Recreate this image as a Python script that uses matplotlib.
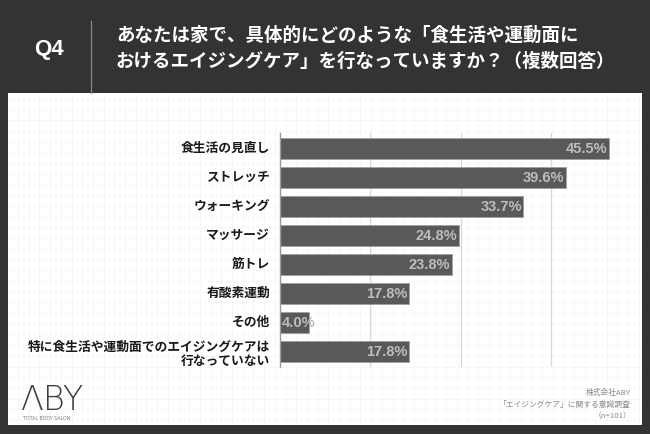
import matplotlib
matplotlib.use("Agg")
import matplotlib.pyplot as plt
import numpy as np

# ---- data ----
categories = [
    "食生活の見直し",
    "ストレッチ",
    "ウォーキング",
    "マッサージ",
    "筋トレ",
    "有酸素運動",
    "その他",
    "特に食生活や運動面でのエイジングケアは\n行なっていない",
]
values = [45.5, 39.6, 33.7, 24.8, 23.8, 17.8, 4.0, 17.8]
value_labels = ["45.5%", "39.6%", "33.7%", "24.8%", "23.8%", "17.8%", "4.0%", "17.8%"]
x_gridlines = [12.5, 25, 37.5]
x_max = 50

title_q = "Q4"
title_lines = "あなたは家で、具体的にどのような「食生活や運動面に\nおけるエイジングケア」を行なっていますか？（複数回答）"
footer_lines = "株式会社ABY\n「エイジングケア」に関する意識調査\n（n=101）"

W, H = 650, 434
JP = ["Noto Sans CJK JP", "DejaVu Sans"]

fig = plt.figure(figsize=(W / 100, H / 100), dpi=100)
fig.patch.set_facecolor("#333333")


def fx(px):
    return px / W


def fy(py):
    return 1 - py / H


# white panel with faint grid
pl, pt, pr, pb = 7.5, 92.7, 642, 425
ax_bg = fig.add_axes([fx(pl), fy(pb), fx(pr - pl), (pb - pt) / H])
ax_bg.set_xlim(pl, pr)
ax_bg.set_ylim(pb, pt)
ax_bg.set_facecolor("white")
for s in ax_bg.spines.values():
    s.set_visible(False)
ax_bg.set_xticks([])
ax_bg.set_yticks([])
for gx in np.arange(18, pr, 10.7):
    ax_bg.axvline(gx, color="#f6f6f6", lw=0.6, zorder=0)
for gy in np.arange(99, pb, 10.7):
    ax_bg.axhline(gy, color="#f6f6f6", lw=0.6, zorder=0)

# main chart axes
al, ar, at, ab = 280, 641, 133, 367
ax = fig.add_axes([fx(al), fy(ab), fx(ar - al), (ab - at) / H])
ax.patch.set_alpha(0)
n = len(categories)
y = np.arange(n)
ax.set_xlim(0, x_max)
ax.set_ylim(n - 0.46, -0.54)
for g in x_gridlines:
    ax.axvline(g, color="#d8d8d8", lw=0.9, zorder=0)
ax.barh(y, values, height=0.715, color="#595959", edgecolor="#a0a0a0",
        linewidth=0.6, zorder=2)
for s in ["top", "right", "bottom"]:
    ax.spines[s].set_visible(False)
ax.spines["left"].set_color("#9a9a9a")
ax.spines["left"].set_linewidth(1.0)
ax.spines["left"].set_zorder(3)
ax.set_xticks([])
ax.set_yticks([])

for yi, v, lab in zip(y, values, value_labels):
    if v < 8:
        ax.text(0.25, yi + 0.02, lab, ha="left", va="center", color="#bdbdbd",
                fontsize=10.5, fontweight="bold", family="Liberation Sans", zorder=4)
    else:
        ax.text(v - 0.2, yi + 0.02, lab, ha="right", va="center", color="#bdbdbd",
                fontsize=10.5, fontweight="bold", family="Liberation Sans", zorder=4)

for yi, c in zip(y, categories):
    yy = yi + (0.1 if "\n" in c else 0)
    ax.text(-1.4, yy, c, ha="right", va="center", color="#1a1a1a",
            fontsize=9.2, fontweight="bold", family=JP, linespacing=1.05)

# header
fig.text(fx(49), fy(49), title_q, ha="center", va="center", color="white",
         fontsize=16, fontweight="bold", family="Liberation Sans")
fig.add_artist(plt.Line2D([fx(90.7), fx(90.7)], [fy(21), fy(92.7)],
                          color="#8a8a8a", lw=0.9))
fig.text(fx(116), fy(48.5), title_lines, ha="left", va="center", color="white",
         fontsize=13.3, fontweight="bold", family=JP, linespacing=1.45)

# footer logo
fig.text(fx(21), fy(400), "ΛBY", ha="left", va="center", color="#453e3a",
         fontsize=24, fontweight="light", family="DejaVu Sans")
fig.text(fx(23), fy(418.5), "TOTAL BODY SALON", ha="left", va="center",
         color="#7a7a7a", fontsize=3.4, family="DejaVu Sans")

# footer right
fig.text(fx(631), fy(404.5), footer_lines, ha="right", va="center",
         color="#8a8a8a", fontsize=5.6, family=JP, linespacing=1.55)

fig.savefig("out.png", dpi=100, facecolor=fig.get_facecolor())
